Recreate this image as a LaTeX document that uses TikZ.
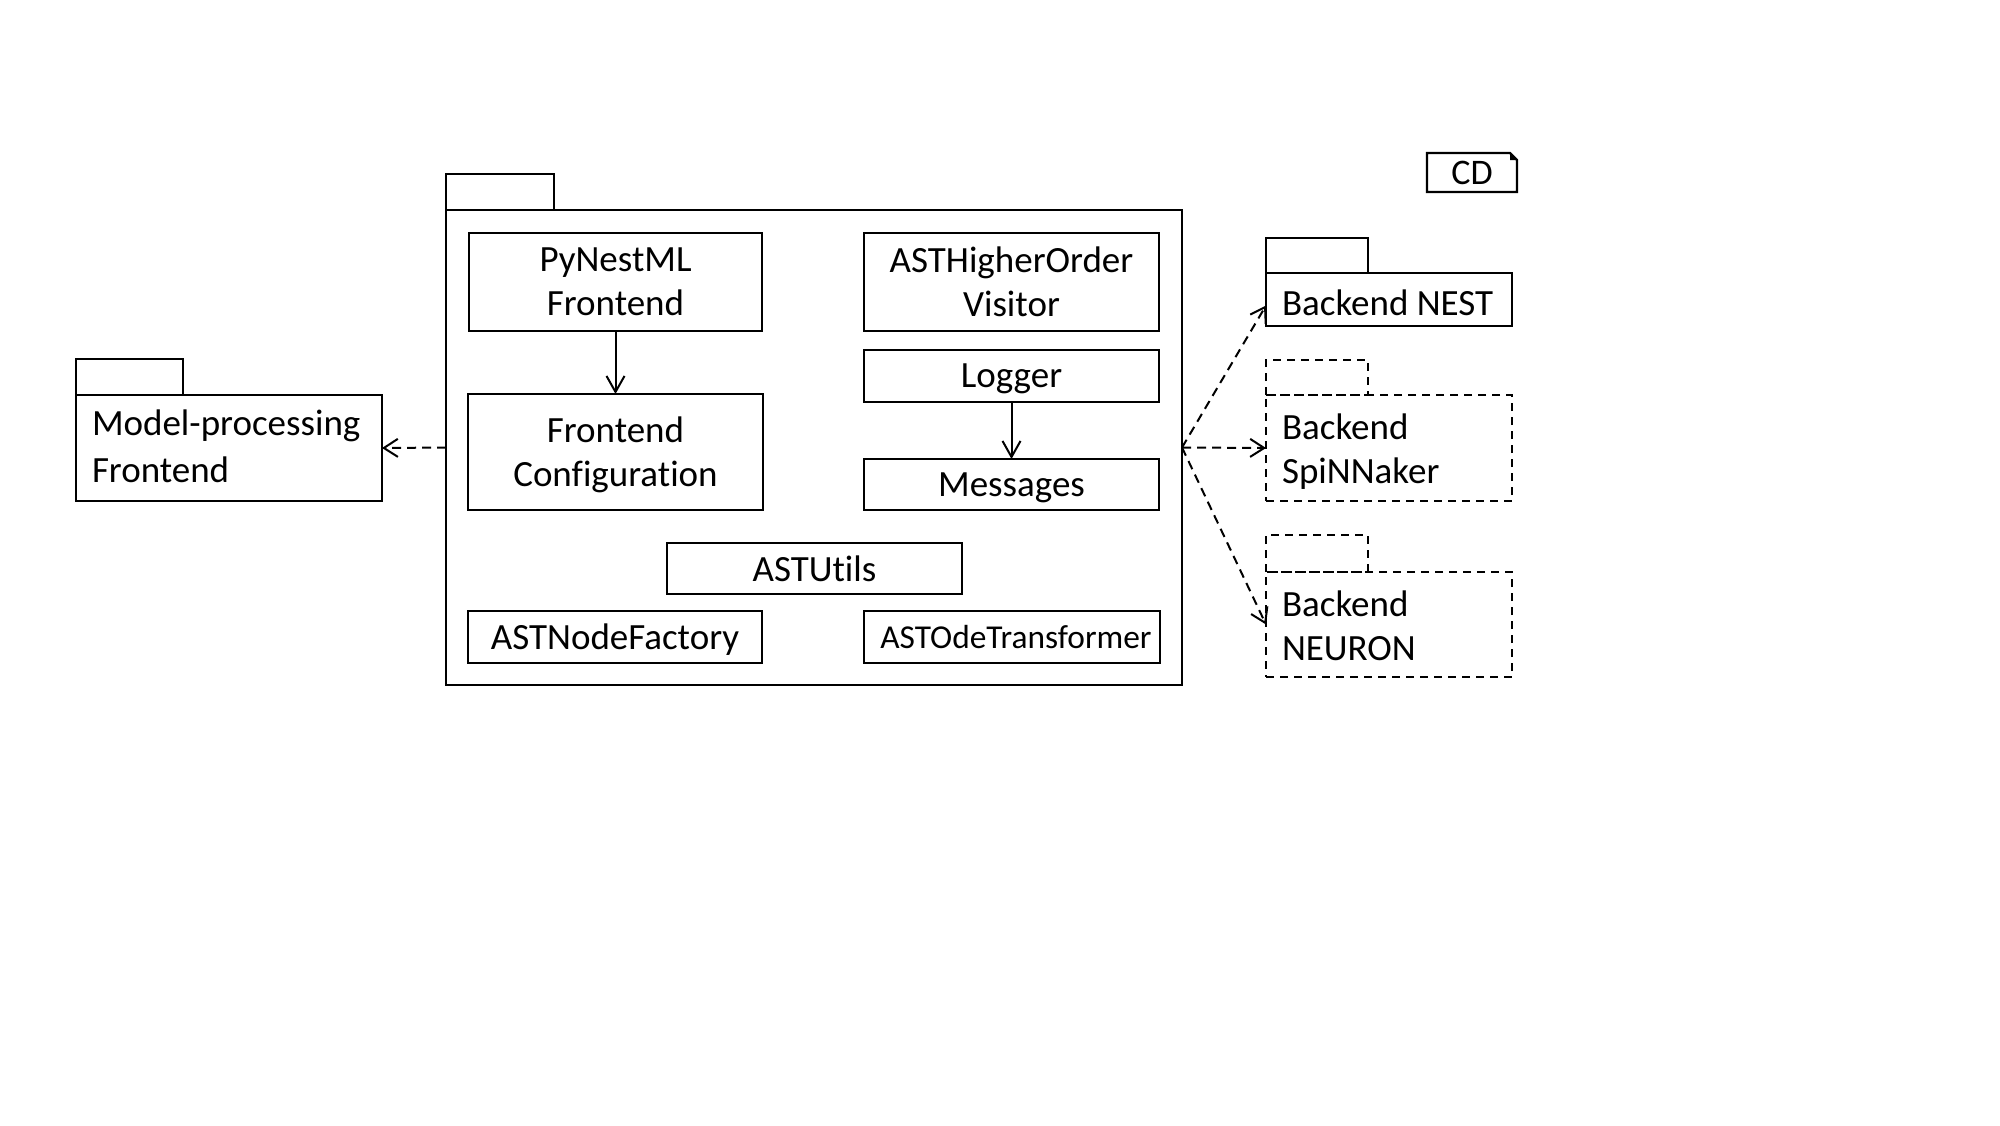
\documentclass[tikz,border=0pt]{standalone}
\usepackage{fontspec}
\setmainfont{Carlito}[Ligatures=NoCommon]
\usetikzlibrary{arrows.meta,calc}
\begin{document}
\begin{tikzpicture}[x=0.5pt,y=-0.5pt,
  every node/.style={inner sep=0pt, outer sep=0pt},
  txt/.style={font=\fontsize{18.5}{22}\selectfont, text depth=0pt},
  cls/.style={txt, draw, line width=1.1pt, align=center},
  pkgbody/.style={draw, line width=1.1pt},
  dpkgbody/.style={pkgbody, dash pattern=on 4pt off 3pt},
  pkgtext/.style={txt, align=left, anchor=west},
  tabsolid/.style={draw, line width=1.1pt},
  tabdash/.style={draw, line width=1.1pt, dash pattern=on 4pt off 3pt},
  use/.style={line width=1pt, -{Straight Barb[length=8pt,width=9pt]}},
  dep/.style={line width=1pt, dash pattern=on 4.5pt off 3pt, -{Straight Barb[length=7pt,width=9pt]}},
]
\useasboundingbox (0,0) rectangle (2000,1125);

% main package
\node[draw, line width=1.1pt, minimum width=368pt, minimum height=237.5pt] (main) at (814,447.5) {};
\draw[tabsolid] (main.north west) rectangle ++(108,-36);

% classes inside
\node[cls, minimum width=146.5pt, minimum height=49pt] (pyn) at (615.5,282) {PyNestML\\Frontend};
\node[cls, minimum width=147.5pt, minimum height=58pt] (fcfg) at (615.5,452) {Frontend\\Configuration};
\node[cls, minimum width=147.5pt, minimum height=49pt] (asth) at (1011.5,282) {ASTHigherOrder\\Visitor};
\node[cls, minimum width=147.5pt, minimum height=26pt] (logger) at (1011.5,376) {Logger};
\node[cls, minimum width=147.5pt, minimum height=25.5pt] (msgs) at (1011.5,484.5) {Messages};
\node[cls, minimum width=147.5pt, minimum height=25.5pt] (astu) at (814.5,568.5) {ASTUtils};
\node[cls, minimum width=147pt, minimum height=26pt] (astnf) at (615,637) {ASTNodeFactory};
\node[cls, minimum width=148pt, minimum height=26pt, font=\fontsize{16.7}{19}\selectfont] (astode) at (1012,637) {\hspace*{4pt}ASTOdeTransformer};

\draw[use] (pyn.south) -- (fcfg.north);
\draw[use] (logger.south) -- (msgs.north);

% left package
\node[pkgbody, minimum width=153pt, minimum height=53pt] (mp) at (229,448) {};
\draw[tabsolid] (mp.north west) rectangle ++(107,-36);
\node[pkgtext] (mpt) at ([xshift=8pt,yshift=1pt]mp.west) {Model-processing\\[1.2pt]Frontend};

% right packages
\node[pkgbody, minimum width=123pt, minimum height=26.5pt] (nest) at (1389,299.5) {};
\draw[tabsolid] (nest.north west) rectangle ++(102,-35);
\node[pkgtext] (nestt) at ([xshift=8pt,yshift=-1.5pt]nest.west) {Backend NEST};

\node[dpkgbody, minimum width=123pt, minimum height=53pt] (spin) at (1389,448) {};
\draw[tabdash] (spin.north west) rectangle ++(102,-35);
\node[pkgtext] (spint) at ([xshift=8pt,yshift=-0.5pt]spin.west) {Backend\\SpiNNaker};

\node[dpkgbody, minimum width=123pt, minimum height=52.5pt] (neuron) at (1389,624.5) {};
\draw[tabdash] (neuron.north west) rectangle ++(102,-37);
\node[pkgtext] (neuront) at ([xshift=8pt,yshift=-0.5pt]neuron.west) {Backend\\NEURON};

% dependencies
\draw[dep] (main.west) -- (mp.east);
\draw[dep] (main.east) -- ([yshift=-3pt]nest.west);
\draw[dep] (main.east) -- (spin.west);
\draw[dep] (main.east) -- (neuron.west);

% CD note
\node[txt, font=\fontsize{18}{20}\selectfont, minimum width=45pt, minimum height=19.5pt] (cd) at (1472,172.5) {CD};
\draw[line width=1.1pt] (cd.south west) -- (cd.north west) -- ($(cd.north east)+(-7,0)$) -- ($(cd.north east)+(0,7)$) -- (cd.south east) -- cycle;
\fill ($(cd.north east)+(-7,0)$) -- ($(cd.north east)+(0,7)$) -- ($(cd.north east)+(-7,7)$) -- cycle;
\end{tikzpicture}
\end{document}
